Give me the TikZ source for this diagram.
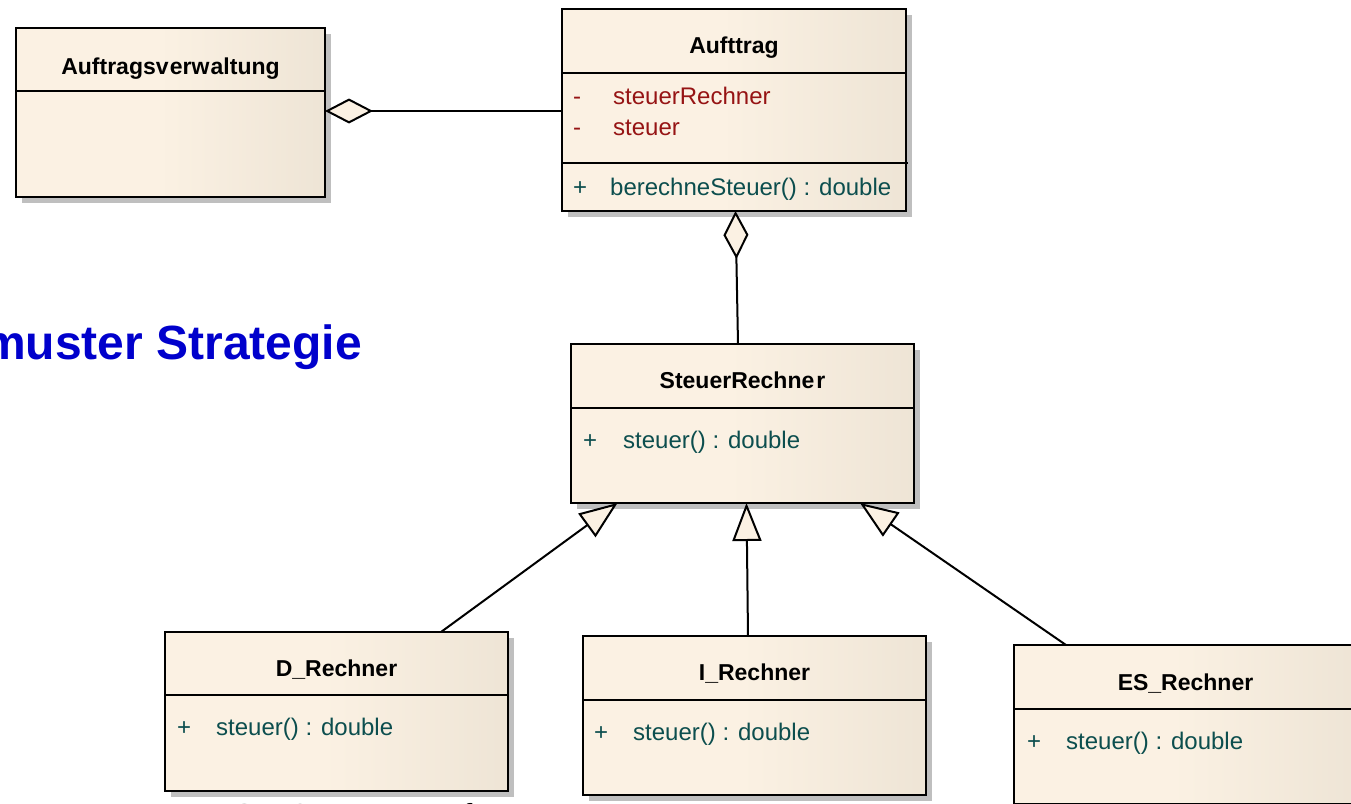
\documentclass[tikz,border=0pt]{standalone}
\usepackage{fontspec}
\setmainfont{Liberation Sans}
\usetikzlibrary{arrows.meta,shadows}

\definecolor{umlA}{RGB}{251,241,227}
\definecolor{umlB}{RGB}{226,217,201}
\definecolor{attrcol}{RGB}{150,20,20}
\definecolor{opcol}{RGB}{12,78,78}
\definecolor{headblue}{RGB}{0,0,204}

\pgfdeclarehorizontalshading{umlshade}{100bp}{color(0bp)=(umlA); color(48bp)=(umlA); color(100bp)=(umlB)}

\tikzset{
  umlbox/.style={draw, line width=2.1pt, shade, shading=umlshade,
    inner sep=0pt, outer sep=0pt,
    general shadow={shadow xshift=6pt, shadow yshift=-6pt, fill=black!25}},
  sepline/.style={line width=2.1pt},
  clsname/.style={anchor=base, inner sep=0pt, font=\fontsize{23}{27}\selectfont\bfseries},
  attr/.style={anchor=base west, inner sep=0pt, text=attrcol, font=\fontsize{24}{28}\selectfont},
  oper/.style={anchor=base west, inner sep=0pt, text=opcol, font=\fontsize{24}{28}\selectfont},
  link/.style={line width=2pt, line join=miter},
  aggr/.style={link, -{Diamond[length=48pt, width=25pt, fill=umlA]}},
  gener/.style={link, -{Triangle[length=38pt, width=29pt, fill=umlA]}},
}

\begin{document}
\begin{tikzpicture}[x=1pt, y=-1pt]
\useasboundingbox (0,0) rectangle (1351,803);
\clip (0,0) rectangle (1351,803);

% slide texts behind the diagram
\node[anchor=base east, inner sep=0pt, text=headblue,
      font=\fontsize{48}{52}\selectfont\bfseries] (heading) at (362,359) {muster Strategie};
\node[anchor=base west, inner sep=0pt,
      font=\fontsize{36}{40}\selectfont] (footer) at (232,829) {SE 2.7 Entwurfsmuster};

% class boxes
\node[umlbox, minimum width=309pt, minimum height=169pt] (av)  at (170.5,112.5) {};
\node[umlbox, minimum width=344pt, minimum height=202pt] (auf) at (734,110) {};
\node[umlbox, minimum width=343pt, minimum height=159pt] (sr)  at (742.5,423.5) {};
\node[umlbox, minimum width=343pt, minimum height=159pt] (dr)  at (336.5,711.5) {};
\node[umlbox, minimum width=343pt, minimum height=159pt] (ir)  at (754.5,715.5) {};
\node[umlbox, minimum width=343pt, minimum height=159pt] (es)  at (1185.5,724.5) {};

% compartment separators
\draw[sepline] (av.west |- 0,91)  -- (av.east |- 0,91);
\draw[sepline] (auf.west |- 0,73) -- (auf.east |- 0,73);
\draw[sepline] (auf.west |- 0,163) -- ([xshift=2pt]auf.east |- 0,163);
\draw[sepline] (sr.west |- 0,408) -- (sr.east |- 0,408);
\draw[sepline] (dr.west |- 0,695) -- (dr.east |- 0,695);
\draw[sepline] (ir.west |- 0,700) -- (ir.east |- 0,700);
\draw[sepline] (es.west |- 0,709) -- (es.east |- 0,709);

% class names
\node[clsname] (avname)  at (170.5,74) {Auftragsv\kern1.2pt erw\kern1.2pt altung};
\node[clsname] (aufname) at (734,53)   {Aufttrag};
\node[clsname] (srname)  at (742.5,388) {SteuerRechne\kern2pt r};
\node[clsname] (drname)  at (336.5,676) {D\_Rechner};
\node[clsname] (irname)  at (754.5,680) {I\_Rechner};
\node[clsname] (esname)  at (1185.5,690) {ES\_Rechner};

% members
\node[attr] (a1v) at (573,104) {-};
\node[attr] (a1)  at (613,104) {steuerRechner};
\node[attr] (a2v) at (573,135) {-};
\node[attr] (a2)  at (613,135) {steuer};
\node[oper] (o1v) at (573,195) {+};
\node[oper] (o1)  at (610,195) {berechneSteuer() : double};
\node[oper] (o2v) at (583,448) {+};
\node[oper] (o2)  at (623,448) {steuer() : double};
\node[oper] (o3v) at (177,735) {+};
\node[oper] (o3)  at (216,735) {steuer() : double};
\node[oper] (o4v) at (594,740) {+};
\node[oper] (o4)  at (633,740) {steuer() : double};
\node[oper] (o5v) at (1027,749) {+};
\node[oper] (o5)  at (1066,749) {steuer() : double};

% aggregations
\draw[aggr] (auf.west |- 0,111) -- (av.east |- 0,111);
\draw[aggr] ([xshift=-4.5pt]sr.north) -- ([xshift=1.5pt]auf.south);

% generalizations
\draw[gener] ([xshift=104.5pt]dr.north) -- ([xshift=-125pt]sr.south);
\draw[gener] ([xshift=-6.5pt]ir.north) -- ([xshift=4pt]sr.south);
\draw[gener] ([xshift=-119.5pt]es.north) -- ([xshift=117.5pt]sr.south);
\end{tikzpicture}
\end{document}
